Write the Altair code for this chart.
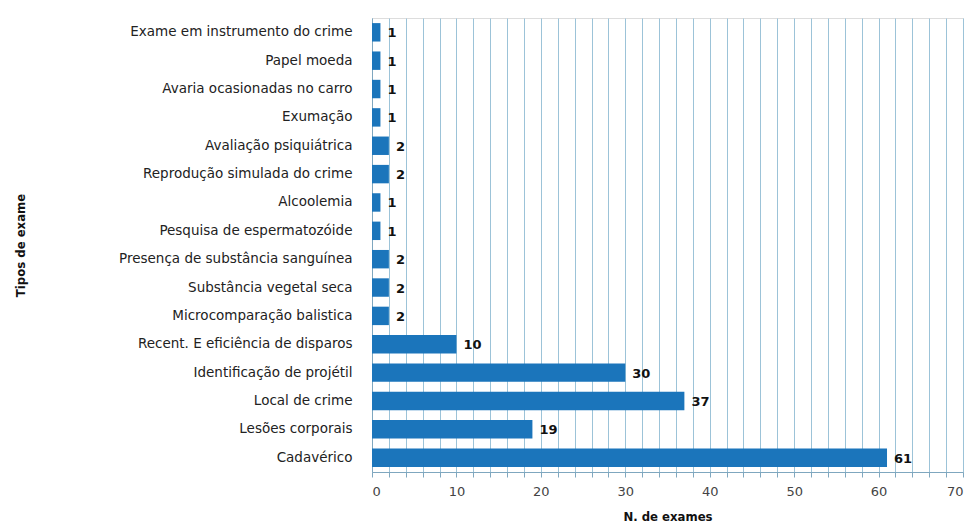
import altair as alt
import pandas as pd

categories = [
    "Exame em instrumento do crime",
    "Papel moeda",
    "Avaria ocasionadas no carro",
    "Exumação",
    "Avaliação psiquiátrica",
    "Reprodução simulada do crime",
    "Alcoolemia",
    "Pesquisa de espermatozóide",
    "Presença de substância sanguínea",
    "Substância vegetal seca",
    "Microcomparação balistica",
    "Recent. E eficiência de disparos",
    "Identificação de projétil",
    "Local de crime",
    "Lesões corporais",
    "Cadavérico",
]
values = [1, 1, 1, 1, 2, 2, 1, 1, 2, 2, 2, 10, 30, 37, 19, 61]
x_ticks = list(range(0, 71, 2))

df = pd.DataFrame({"tipo": categories, "n": values})

grid_color = "#9cc3d8"

x = alt.X(
    "n:Q",
    scale=alt.Scale(domain=[0, 70], nice=False),
    axis=alt.Axis(
        values=x_ticks,
        tickCount=100,
        format="d",
        labelExpr="datum.value % 10 == 0 ? datum.label : ''",
        labelOverlap=False,
        title="N. de exames",
        titleFont="DejaVu Sans Condensed",
        titleFontSize=13,
        titleFontWeight="bold",
        titleColor="#111111",
        titlePadding=12,
        labelFont="DejaVu Sans",
        labelFontSize=13,
        labelColor="#444444",
        labelPadding=8,
        grid=True,
        gridColor=grid_color,
        gridWidth=1,
        gridOpacity=1,
        domainColor="#7fa7bf",
        tickColor="#7fa7bf",
        tickSize=5,
    ),
)
y = alt.Y(
    "tipo:N",
    sort=categories,
    scale=alt.Scale(paddingInner=0.35, paddingOuter=0.18),
    axis=alt.Axis(
        title="Tipos de exame",
        titleFont="DejaVu Sans Condensed",
        titleFontSize=13,
        titleFontWeight="bold",
        titleColor="#111111",
        titleX=-352,
        titleY=227,
        titleAngle=270,
        titleAlign="center",
        titleBaseline="middle",
        labelFont="DejaVu Sans",
        labelFontSize=13.5,
        labelColor="#222222",
        labelPadding=20,
        ticks=False,
        domainColor="#7fa7bf",
        labelLimit=400,
    ),
)

bars = alt.Chart(df).mark_bar(color="#1B75BB").encode(x=x, y=y)
labels = alt.Chart(df).mark_text(
    align="left", dx=7, dy=1, font="DejaVu Sans", fontSize=13, fontWeight="bold", color="#111111"
).encode(x="n:Q", y=alt.Y("tipo:N", sort=categories), text="n:Q")

chart = (
    alt.layer(bars, labels)
    .properties(
        width=591,
        height=454,
        autosize=alt.AutoSizeParams(type="none"),
        padding={"left": 372, "top": 18, "right": 12, "bottom": 51},
    )
    .configure_view(stroke=None)
    .configure(background="white")
)

chart.save("out.html", embed_options={"renderer": "svg", "actions": False})
